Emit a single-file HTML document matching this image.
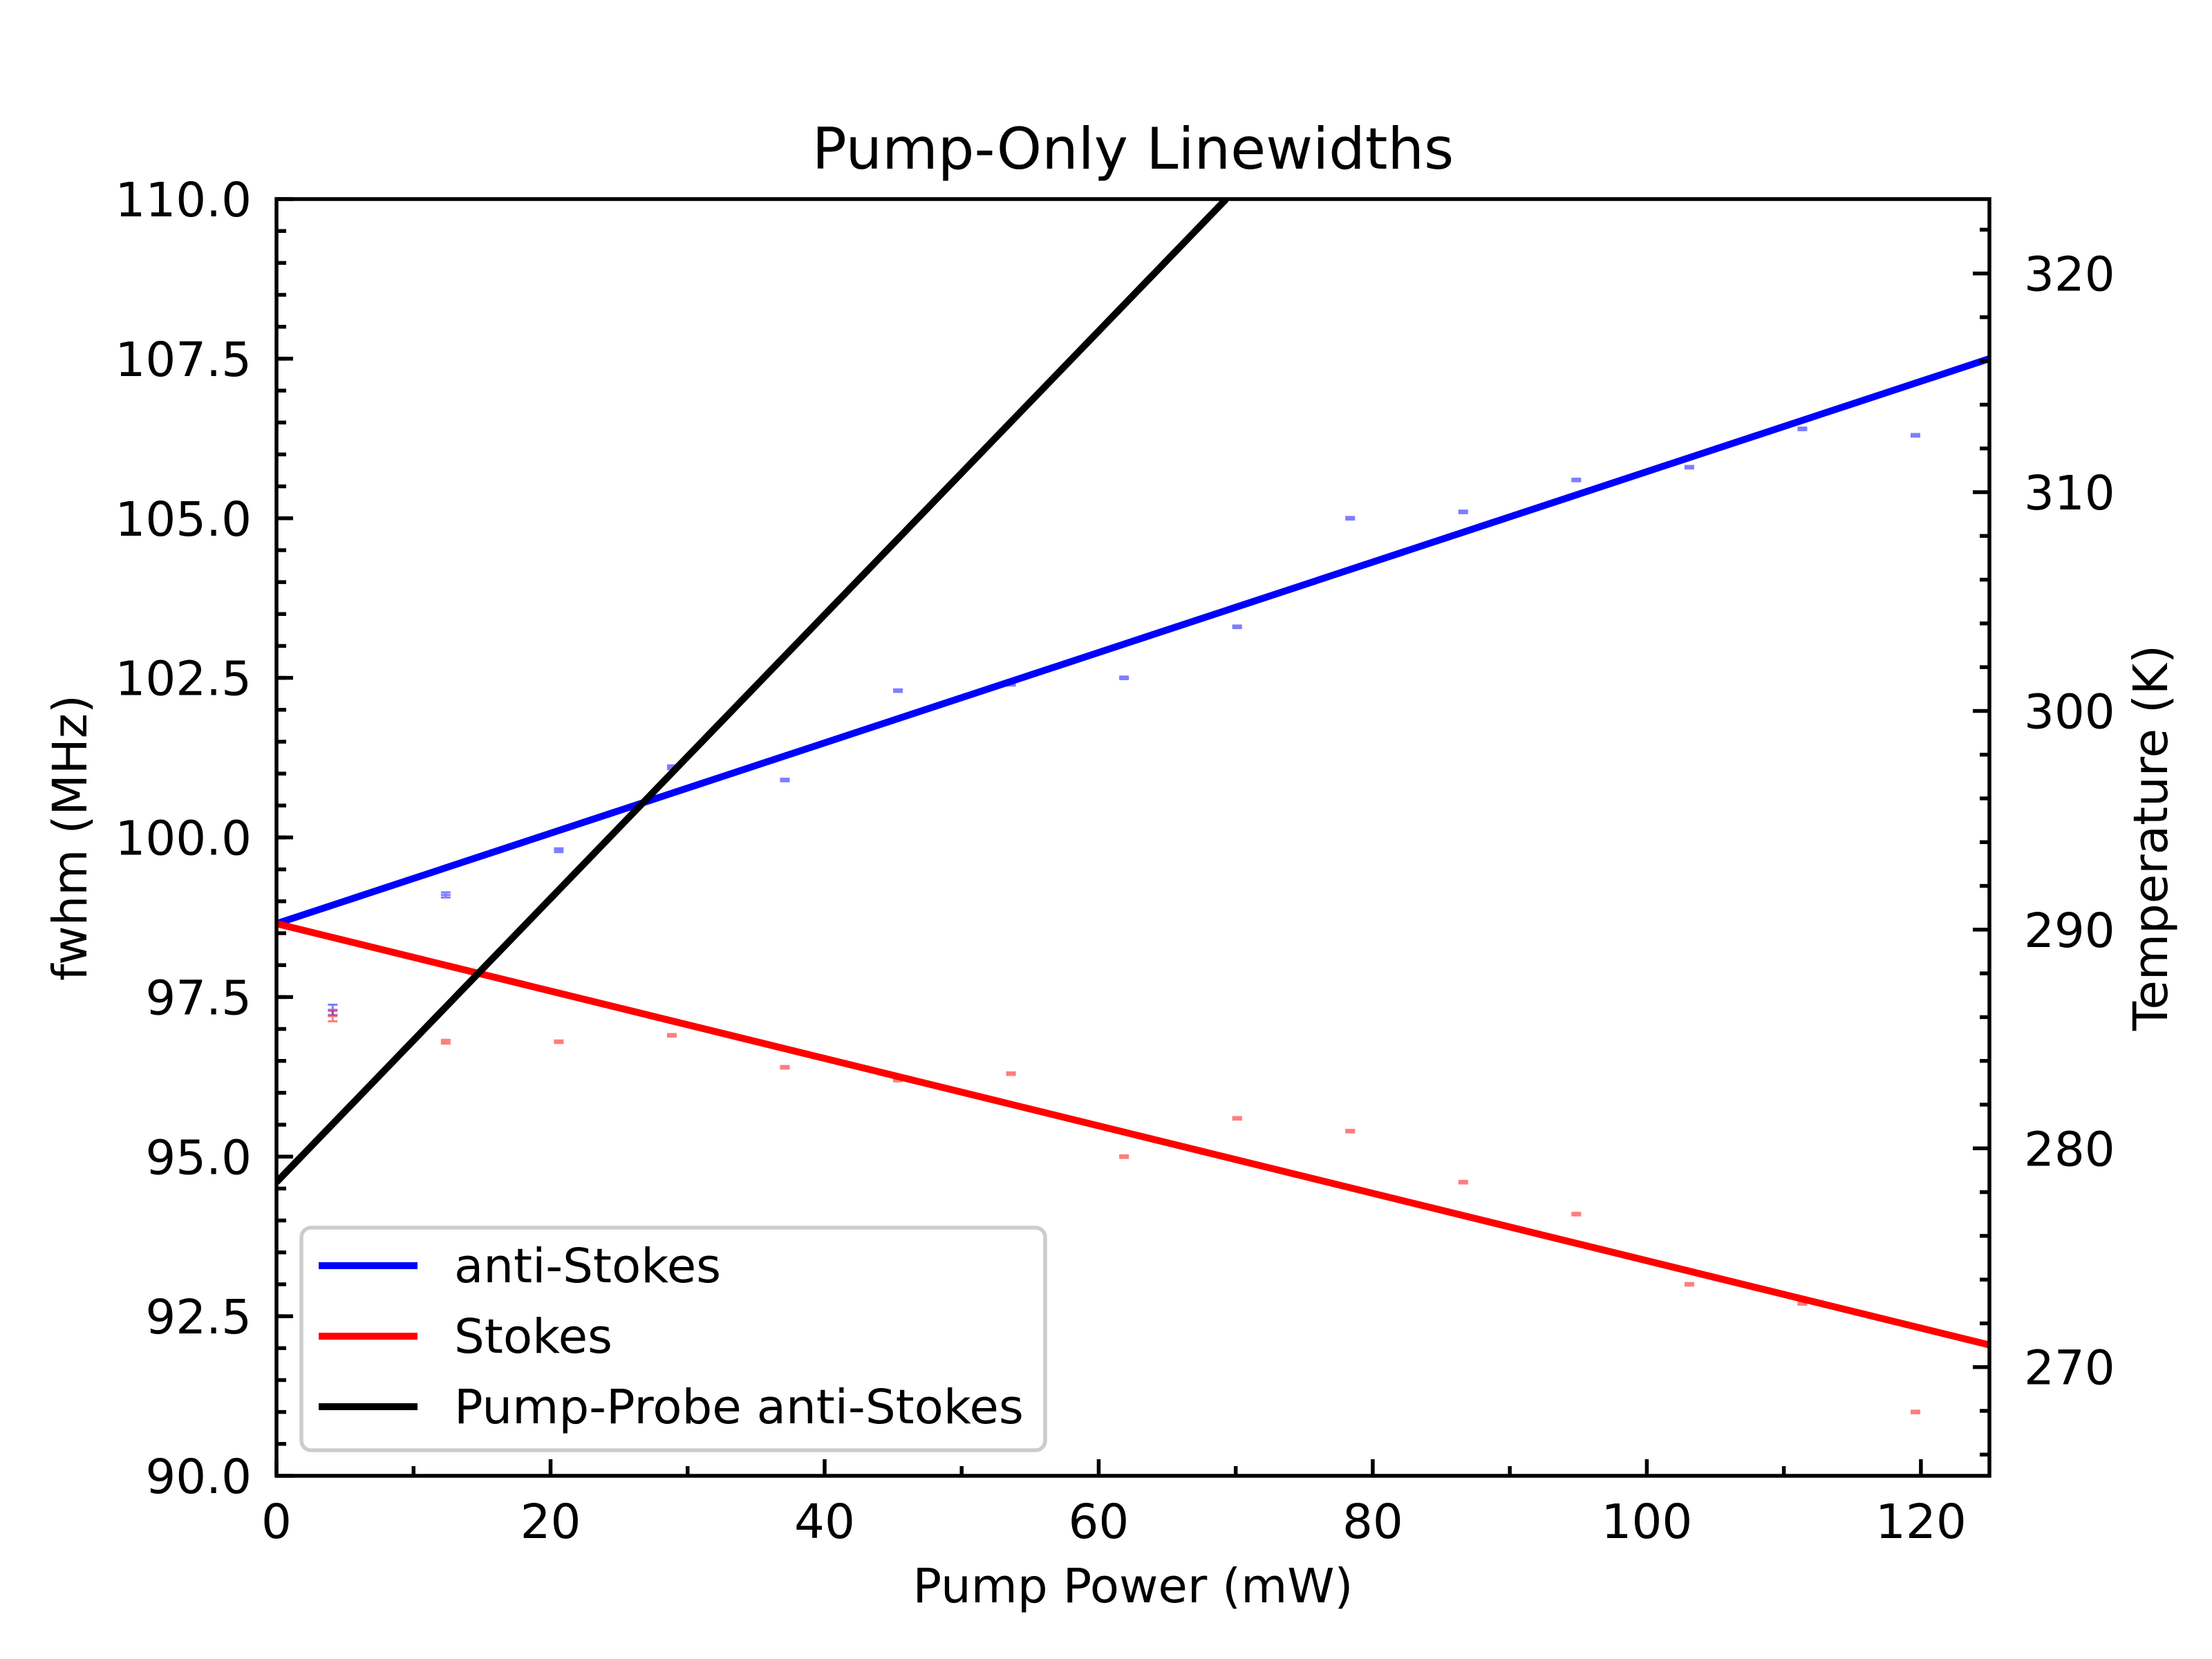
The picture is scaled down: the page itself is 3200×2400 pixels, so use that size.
<!DOCTYPE html>
<html><head><meta charset="utf-8"><style>html,body{margin:0;padding:0;background:#fff}svg{display:block}text{font-family:"DejaVu Sans","Liberation Sans",sans-serif}</style></head>
<body>
<svg id="c" width="3200" height="2400" xmlns="http://www.w3.org/2000/svg"></svg>
<script>
const pumpPower=[4.1,12.35,20.6,28.85,37.1,45.35,53.6,61.85,70.1,78.35,86.6,94.85,103.1,111.35,119.6];
const antiStokes=[97.3,99.1,99.8,101.1,100.9,102.3,102.4,102.5,103.3,105.0,105.1,105.6,105.8,106.4,106.3];
const antiStokesErr=[0.08,0.04,0.03,0.03,0.02,0.02,0.02,0.02,0.02,0.02,0.02,0.02,0.02,0.02,0.02];
const stokes=[97.2,96.8,96.8,96.9,96.4,96.2,96.3,95.0,95.6,95.4,94.6,94.1,93.0,92.7,91.0];
const stokesErr=[0.08,0.03,0.02,0.02,0.02,0.02,0.02,0.02,0.02,0.02,0.02,0.02,0.02,0.02,0.02];
const fitAnti=[[0,98.65],[125,107.5]];
const fitStokes=[[0,98.65],[125,92.05]];
const fitPumpProbe=[[0,94.6],[69.3,110]];
const xTicks=[0,20,40,60,80,100,120];
const yTicks=[90,92.5,95,97.5,100,102.5,105,107.5,110];
const tTicks=[270,280,290,300,310,320];
const L=400,R=2878,T=288,B=2135;
const xs=v=>L+(v-0)/(125)*(R-L);
const ys=v=>B-(v-90)/20*(B-T);
const ts=v=>B-(v-265.03)/(323.4-265.03)*(B-T);
const svg=document.getElementById('c');const NS='http://www.w3.org/2000/svg';
function mk(t,a,p){const e=document.createElementNS(NS,t);for(const k in a)e.setAttribute(k,a[k]);(p||svg).appendChild(e);return e;}
function line(x1,y1,x2,y2,c,w,p){return mk('line',{x1,y1,x2,y2,stroke:c,'stroke-width':w},p);}
function txt(x,y,s,sz,anc,extra){const e=mk('text',Object.assign({x,y,'font-size':sz,'text-anchor':anc||'middle'},extra||{}));e.textContent=s;return e;}
const cp=mk('clipPath',{id:'cp'});mk('rect',{x:L,y:T,width:R-L,height:B-T},cp);
const g=mk('g',{'clip-path':'url(#cp)'});
function pts(arr,err,col,name){arr.forEach((v,i)=>{const x=xs(pumpPower[i]),y1=ys(v-err[i]),y2=ys(v+err[i]);
 const gg=mk('g',{opacity:0.5},g);
 
 
 line(x,y1,x,y2,col,3,gg);
 [y1,y2].forEach(y=>{line(x-7,y,x+7,y,col,3,gg);});
 line(x-7,ys(v),x+7,ys(v),col,3,gg);
});}
pts(antiStokes,antiStokesErr,'#0000ff','anti-stokes');
pts(stokes,stokesErr,'#ff0000','stokes');
function fit(f,col,name){const e=mk('line',{x1:xs(f[0][0]),y1:ys(f[0][1]),x2:xs(f[1][0]),y2:ys(f[1][1]),stroke:col,'stroke-width':10},g);
 
 }
fit(fitAnti,'#0000ff','anti-stokes-fit');fit(fitStokes,'#ff0000','stokes-fit');fit(fitPumpProbe,'#000','pump-probe-fit');
xTicks.forEach(v=>{line(xs(v),B,xs(v),B-24,'#000',5.5);txt(xs(v),B+90,String(v),69);});
for(let v=10;v<125;v+=20)line(xs(v),B,xs(v),B-14,'#000',5.5);
yTicks.forEach(v=>{line(L,ys(v),L+24,ys(v),'#000',5.5);txt(L-36,ys(v)+25,v.toFixed(1),69,'end');});
for(let v=90.5;v<110;v+=0.5)line(L,ys(v),L+14,ys(v),'#000',5.5);
tTicks.forEach(v=>{line(R,ts(v),R-24,ts(v),'#000',5.5);txt(R+50,ts(v)+25,String(v),69,'start');});
for(let v=266;v<323.4;v+=2)if(v%10)line(R,ts(v),R-14,ts(v),'#000',5.5);
mk('rect',{x:L,y:T,width:R-L,height:B-T,fill:'none',stroke:'#000','stroke-width':5.5});
const tl=txt(1639,244,'Pump-Only Linewidths',83);
const xl=txt(1639,2318,'Pump Power (mW)',69);
const yl=txt(0,0,'fwhm (MHz)',69,'middle',{transform:'translate(125,1212) rotate(-90)'});
const rl=txt(0,0,'Temperature (K)',69,'middle',{transform:'translate(3135,1212) rotate(-90)'});
const lg=mk('g',{});
mk('rect',{x:436,y:1776,width:1076,height:322,rx:14,fill:'#fff','fill-opacity':0.8,stroke:'#ccc','stroke-width':5.5},lg);
[['anti-Stokes','#0000ff',1831],['Stokes','#ff0000',1933],['Pump-Probe anti-Stokes','#000',2035]].forEach(([s,c,y])=>{
 line(461,y,604,y,c,10,lg);
 const t=txt(657,y+24,s,69,'start');lg.appendChild(t);});
</script>
</body></html>
